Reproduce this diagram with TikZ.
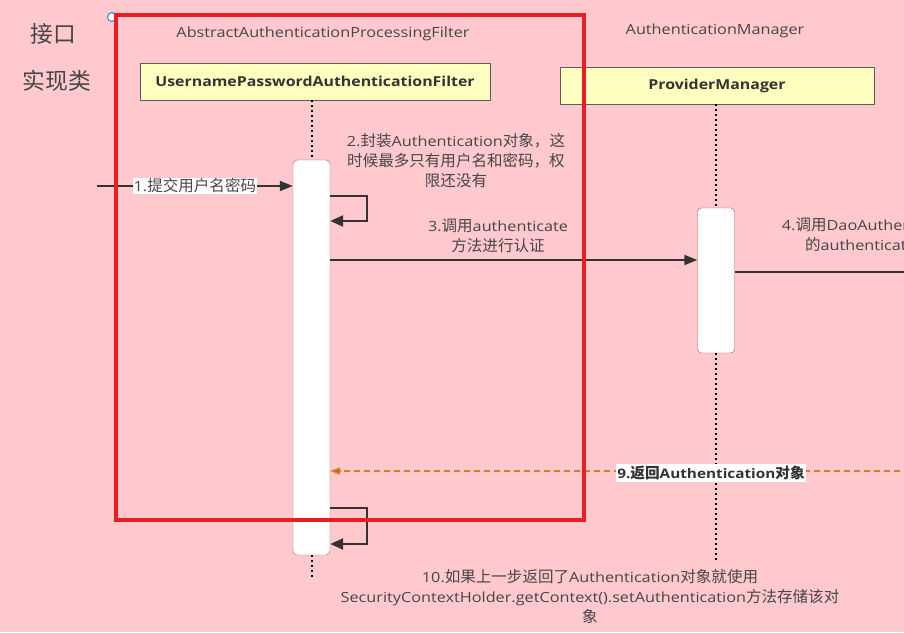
\documentclass[tikz,border=0pt]{standalone}
\usepackage{fontspec}
\setmainfont{Open Sans}[FakeStretch=1.16]
\newfontfamily\cjk{Noto Sans CJK SC}[Scale=1.11]
\usetikzlibrary{arrows.meta,positioning}
\definecolor{pinkback}{RGB}{255,201,206}
\definecolor{classyellow}{RGB}{255,255,192}
\definecolor{framered}{RGB}{237,28,36}
\definecolor{actborder}{RGB}{184,84,80}
\definecolor{linegray}{RGB}{51,51,51}
\definecolor{textgray}{RGB}{70,70,70}
\definecolor{returnorange}{RGB}{222,122,30}
\definecolor{handleblue}{RGB}{80,140,230}

\tikzset{
  classbox/.style={draw=linegray!80, fill=classyellow, minimum height=37pt,
    inner sep=0pt, font=\fontsize{13.7}{18}\selectfont\bfseries, text=linegray},
  actbox/.style={draw=actborder, fill=white, rounded corners=4pt, minimum width=37pt, inner sep=0pt},
  lifeline/.style={line width=2pt, dash pattern=on 2pt off 3pt},
  msg/.style={draw=linegray, line width=1.8pt, -{Triangle[length=13pt,width=10pt]}},
  selfmsg/.style={draw=linegray, line width=2.4pt, -{Triangle[length=13pt,width=11pt]}},
  returnmsg/.style={draw=returnorange, line width=1.2pt, dash pattern=on 6pt off 4pt,
    -{Triangle[length=10pt,width=7pt,fill=returnorange!85!black]}},
  msglabel/.style={font=\fontsize{14}{20}\selectfont, text=textgray, align=center},
  headlabel/.style={font=\fontsize{14}{18}\selectfont, text=textgray},
  sidelabel/.style={font=\fontsize{20.5}{24}\selectfont\cjk, text=textgray}
}

\begin{document}
\begin{tikzpicture}[x=1pt,y=-1pt]
\useasboundingbox (0,0) rectangle (904,632);
\clip (0,0) rectangle (904,632);
\fill[pinkback] (0,0) rectangle (904,632);

% left column
\node[sidelabel] (iface) at (53,34) {接口};
\node[sidelabel] (impl) at (57,81) {实现类};

% participants
\node[headlabel] (absfilter) at (323,34) {AbstractAuthenticationProcessingFilter};
\node[classbox, minimum width=350pt] (upfilter) at (315,81.5) {UsernamePasswordAuthenticationFilter};
\node[headlabel] (authmgr) at (715,31) {AuthenticationManager};
\node[classbox, minimum width=314pt] (provmgr) at (717,85.5) {ProviderManager};

% activations
\node[actbox, minimum height=395pt] (act1) at (311.5,357.5) {};
\node[actbox, minimum height=145pt] (act2) at (716,280.5) {};

% lifelines
\draw[lifeline] (act1.north |- upfilter.south) -- (act1.north);
\draw[lifeline] (act1.south) -- ++(0,24);
\draw[lifeline] (act2.north |- provmgr.south) -- (act2.north);
\draw[lifeline] (act2.south) -- ++(0,207);

% 1
\coordinate (entry) at (97,186);
\draw[msg] (entry) -- (act1.west |- entry)
  node[midway, msglabel, fill=white, inner sep=1pt] (lab1) {1.{\cjk 提交用户名密码}};

% 2
\draw[selfmsg] (act1.east |- 0,196) -- (367,196) -- (367,221) -- (act1.east |- 0,221);
\node[msglabel] (lab2) at (456,161) {2.{\cjk 封装}Authentication{\cjk 对象，这}\\{\cjk 时候最多只有用户名和密码，权}\\{\cjk 限还没有}};

% 3
\draw[msg] (act1.east |- 0,260) -- (act2.west |- 0,260);
\node[msglabel] (lab3) at (498,236) {3.{\cjk 调用}authenticate\\{\cjk 方法进行认证}};

% 4
\coordinate (daoend) at (930,272);
\draw[msg] (act2.east |- 0,272) -- (daoend);
\node[msglabel] (lab4) at (907,235) {4.{\cjk 调用}DaoAuthenticationProvider\\{\cjk 的}authenticate{\cjk 方法进行认证}};

% 9
\coordinate (retstart) at (930,471);
\draw[returnmsg] (retstart) -- (act1.east |- retstart);
\node[msglabel, fill=white, inner sep=1.5pt, text=linegray, font=\fontsize{13.2}{20}\selectfont\bfseries] (lab9) at (711,473) {9.{\cjk 返回}Authentication{\cjk 对象}};

% 10
\draw[selfmsg] (act1.east |- 0,508) -- (367,508) -- (367,544) -- (act1.east |- 0,544);
\node[msglabel] (lab10) at (590,596) {10.{\cjk 如果上一步返回了}Authentication{\cjk 对象就使用}\\SecurityContextHolder.getContext().setAuthentication{\cjk 方法存储该对}\\{\cjk 象}};

% frame
\draw[handleblue, fill=white, line width=1.2pt] (112,17) circle (4.5);
\draw[framered, line width=4pt] (116,15) rectangle (584,520);
\end{tikzpicture}
\end{document}
